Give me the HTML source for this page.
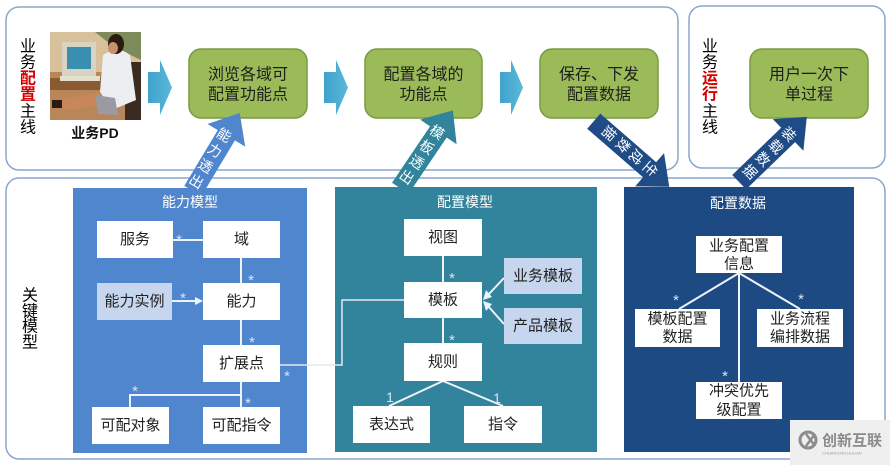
<!DOCTYPE html>
<html><head><meta charset="utf-8"><style>
html,body{margin:0;padding:0;background:#fff;}
svg{display:block;}
text{font-family:"Liberation Sans","Noto Sans CJK SC",sans-serif;}
</style></head><body>
<svg width="890" height="465" viewBox="0 0 890 465" xmlns="http://www.w3.org/2000/svg">
<defs>
<linearGradient id="chev" x1="0" y1="0" x2="1" y2="0">
<stop offset="0" stop-color="#3fa3cc"/><stop offset="1" stop-color="#5bb8d8"/>
</linearGradient>
</defs>
<rect width="890" height="465" fill="#fff"/>

<!-- panels -->
<rect x="6" y="7" width="672" height="163" rx="13" fill="#fff" stroke="#8aa6cc" stroke-width="1.5"/>
<rect x="689" y="6" width="196" height="162" rx="13" fill="#fff" stroke="#8aa6cc" stroke-width="1.5"/>
<rect x="6" y="178" width="879" height="281" rx="13" fill="#fff" stroke="#8aa6cc" stroke-width="1.5"/>

<!-- vertical labels -->
<g font-size="16" text-anchor="middle" dominant-baseline="central">
<text x="28" y="47">业</text><text x="28" y="63">务</text>
<text x="28" y="79" fill="#d40000" font-weight="bold">配</text><text x="28" y="95" fill="#d40000" font-weight="bold">置</text>
<text x="28" y="112">主</text><text x="28" y="128">线</text>
<text x="710" y="47">业</text><text x="710" y="63">务</text>
<text x="710" y="79" fill="#d40000" font-weight="bold">运</text><text x="710" y="95" fill="#d40000" font-weight="bold">行</text>
<text x="710" y="112">主</text><text x="710" y="128">线</text>
<text x="30" y="296">关</text><text x="30" y="312">键</text><text x="30" y="327">模</text><text x="30" y="343">型</text>
</g>

<!-- photo -->
<g>
<rect x="50" y="32" width="91" height="88" fill="#b88658"/>
<rect x="50" y="32" width="91" height="40" fill="#d8c09a"/>
<path d="M95 32 L141 32 L141 60 L120 50 L105 40 Z" fill="#7d8a5a"/>
<rect x="50" y="78" width="55" height="12" fill="#8a5a30"/>
<rect x="62" y="42" width="34" height="36" fill="#d9d3c2"/>
<rect x="67" y="47" width="24" height="22" fill="#3a8fb0"/>
<rect x="60" y="76" width="40" height="5" fill="#e5dfcf"/>
<rect x="125" y="62" width="16" height="58" fill="#3a2a20"/>
<path d="M103 55 Q118 45 130 55 L136 100 L112 110 L100 92 Z" fill="#eceef2"/>
<ellipse cx="116" cy="44" rx="8" ry="10" fill="#2a1a10"/>
<ellipse cx="113" cy="48" rx="5" ry="6" fill="#c89070"/>
<path d="M100 92 L58 100 L55 108 L70 110 L105 104 Z" fill="#c8875a"/>
<path d="M95 95 L115 98 L118 115 L98 114 Z" fill="#9a9aa2"/>
<rect x="52" y="100" width="10" height="8" fill="#2a1a12"/>
</g>
<text x="95" y="133" font-size="14" font-weight="bold" text-anchor="middle" dominant-baseline="central" fill="#111">业务PD</text>

<!-- chevrons -->
<polygon points="148,72 160,72 160,60 172,87.5 160,115 160,103 148,103" fill="url(#chev)"/>
<polygon points="324,72 336,72 336,60 348,87.5 336,115 336,103 324,103" fill="url(#chev)"/>
<polygon points="500,72 511,72 511,60 523,87.5 511,115 511,103 500,103" fill="url(#chev)"/>

<!-- green boxes -->
<g fill="#9bbb59" stroke="#7a9a42" stroke-width="1.5">
<rect x="189" y="49" width="118" height="69" rx="12"/>
<rect x="365" y="49" width="117" height="69" rx="12"/>
<rect x="540" y="49" width="118" height="69" rx="12"/>
<rect x="750" y="49" width="118" height="69" rx="12"/>
</g>
<g font-size="16" text-anchor="middle" dominant-baseline="central" fill="#1e1e1e">
<text x="248" y="75">浏览各域可</text><text x="248" y="95">配置功能点</text>
<text x="423.5" y="75">配置各域的</text><text x="423.5" y="95">功能点</text>
<text x="599" y="75">保存、下发</text><text x="599" y="95">配置数据</text>
<text x="809" y="75">用户一次下</text><text x="809" y="95">单过程</text>
</g>

<!-- colored model panels -->
<rect x="73" y="188" width="234" height="265" fill="#4f86cd"/>
<rect x="335" y="187" width="262" height="265" fill="#31849b"/>
<rect x="624" y="187" width="230" height="265" fill="#1e4a84"/>

<!-- connectors -->
<g stroke="#eef3fa" stroke-width="2" fill="none">
<line x1="173" y1="240" x2="203" y2="240"/>
<line x1="241" y1="258" x2="241" y2="283"/>
<line x1="172" y1="301" x2="197" y2="301"/>
<line x1="241" y1="320" x2="241" y2="345"/>
<line x1="241" y1="382" x2="241" y2="407"/>
<polyline points="241,395 130,395 130,407"/>
<polyline points="280,365 342,365 342,300 404,300" stroke="#e4e8ee" stroke-width="1.5"/>
<line x1="443" y1="256" x2="443" y2="282"/>
<line x1="443" y1="318" x2="443" y2="343"/>
<line x1="504" y1="278" x2="488" y2="295"/>
<line x1="504" y1="324" x2="488" y2="306"/>
<line x1="443" y1="381" x2="389" y2="406"/>
<line x1="443" y1="381" x2="503" y2="406"/>
<line x1="739" y1="273" x2="679" y2="309"/>
<line x1="739" y1="273" x2="800" y2="309"/>
<line x1="739" y1="273" x2="739" y2="382"/>
</g>
<g fill="#eef3fa">
<polygon points="203,301 195,297 195,305"/>
<polygon points="483,300 486,290 492,297"/>
<polygon points="483,301 492,304 486,311"/>
</g>

<!-- white boxes -->
<g fill="#fff">
<rect x="97" y="221" width="76" height="37"/>
<rect x="203" y="221" width="77" height="37"/>
<rect x="97" y="283" width="75" height="37" fill="#c6d6ee"/>
<rect x="203" y="283" width="77" height="37"/>
<rect x="203" y="345" width="77" height="37"/>
<rect x="92" y="407" width="77" height="37"/>
<rect x="203" y="407" width="77" height="37"/>
<rect x="404" y="219" width="78" height="37"/>
<rect x="404" y="282" width="78" height="36"/>
<rect x="404" y="343" width="78" height="38"/>
<rect x="504" y="258" width="78" height="36" fill="#c6d6ee"/>
<rect x="504" y="308" width="78" height="36" fill="#c6d6ee"/>
<rect x="353" y="406" width="77" height="37"/>
<rect x="464" y="406" width="78" height="37"/>
<rect x="696" y="236" width="86" height="37"/>
<rect x="635" y="309" width="85" height="38"/>
<rect x="757" y="309" width="86" height="38"/>
<rect x="696" y="382" width="86" height="37"/>
</g>
<g font-size="15" fill="#222" text-anchor="middle" dominant-baseline="central">
<text x="135" y="239.5">服务</text>
<text x="241.5" y="239.5">域</text>
<text x="134.5" y="301.5">能力实例</text>
<text x="241.5" y="301.5">能力</text>
<text x="241.5" y="363.5">扩展点</text>
<text x="130.5" y="425.5">可配对象</text>
<text x="241.5" y="425.5">可配指令</text>
<text x="443" y="237.5">视图</text>
<text x="443" y="300">模板</text>
<text x="443" y="362">规则</text>
<text x="543" y="276">业务模板</text>
<text x="543" y="326">产品模板</text>
<text x="391.5" y="424.5">表达式</text>
<text x="503" y="424.5">指令</text>
<text x="739" y="246">业务配置</text><text x="739" y="264">信息</text>
<text x="677.5" y="319">模板配置</text><text x="677.5" y="337">数据</text>
<text x="800" y="319">业务流程</text><text x="800" y="337">编排数据</text>
<text x="739" y="391">冲突优先</text><text x="739" y="410">级配置</text>
</g>

<!-- asterisks and multiplicities -->
<g font-size="15" fill="#dbe6f6" text-anchor="middle">
<text x="179" y="245">*</text>
<text x="251" y="285">*</text>
<text x="183" y="303">*</text>
<text x="252" y="347">*</text>
<text x="287" y="381">*</text>
<text x="135" y="396">*</text>
<text x="248" y="408">*</text>
<text x="452" y="283">*</text>
<text x="452" y="345">*</text>
<text x="676" y="305">*</text>
<text x="801" y="304">*</text>
<text x="725" y="381">*</text>
</g>
<g font-size="14" fill="#dbe6f6" text-anchor="middle" dominant-baseline="central">
<text x="390" y="397">1</text>
<text x="497" y="398">1</text>
</g>

<!-- diagonal arrows -->
<g transform="translate(214.5,155) rotate(31)">
<path d="M0,-49 L22,-23 L10,-23 L10,42 L-10,42 L-10,-23 L-22,-23 Z" fill="#4f86cd"/>
<g font-size="14" fill="#fff" text-anchor="middle" dominant-baseline="central">
<text x="-2" y="-22">能</text><text x="-2" y="-4">力</text><text x="-2" y="14">透</text><text x="-2" y="32">出</text>
</g>
</g>
<g transform="translate(425.5,151) rotate(34)">
<path d="M0,-49 L22,-23 L10,-23 L10,45 L-10,45 L-10,-23 L-22,-23 Z" fill="#31849b"/>
<g font-size="14" fill="#fff" text-anchor="middle" dominant-baseline="central">
<text x="-1" y="-22">模</text><text x="-1" y="-4">板</text><text x="-1" y="14">透</text><text x="-1" y="32">出</text>
</g>
</g>
<g transform="translate(631.5,154) rotate(131)">
<path d="M0,-50 L22,-24 L10,-24 L10,50 L-10,50 L-10,-24 L-22,-24 Z" fill="#1f4b86"/>
<g font-size="14" fill="#fff" text-anchor="middle" dominant-baseline="central">
<text x="-1" y="-24">生</text><text x="-1" y="-5.5">成</text><text x="-1" y="12">数</text><text x="-1" y="30.5">据</text>
</g>
</g>
<g transform="translate(773,149.5) rotate(46)">
<path d="M0,-47 L22,-21 L10,-21 L10,47 L-10,47 L-10,-21 L-22,-21 Z" fill="#1f4b86"/>
<g font-size="14" fill="#fff" text-anchor="middle" dominant-baseline="central">
<text x="0" y="-22">装</text><text x="0" y="-4">载</text><text x="0" y="14">数</text><text x="0" y="32">据</text>
</g>
</g>

<!-- panel titles (on top) -->
<g font-size="14" fill="#fff" text-anchor="middle" dominant-baseline="central">
<text x="190" y="202">能力模型</text>
<text x="465" y="202">配置模型</text>
<text x="738" y="203">配置数据</text>
</g>

<!-- watermark -->
<rect x="790" y="420" width="100" height="45" fill="#efefef"/>
<circle cx="808" cy="440" r="8" fill="none" stroke="#8c8c8c" stroke-width="3"/>
<path d="M806 434 L815 446 M815 434 L806 446" stroke="#8c8c8c" stroke-width="2.5"/>
<text x="822" y="441" font-size="15" fill="#8a8a8a" dominant-baseline="central" font-weight="bold">创新互联</text>
<text x="822" y="453" font-size="4" fill="#9a9a9a" dominant-baseline="central">CHUANGXIN HULIAN</text>
</svg>
</body></html>
